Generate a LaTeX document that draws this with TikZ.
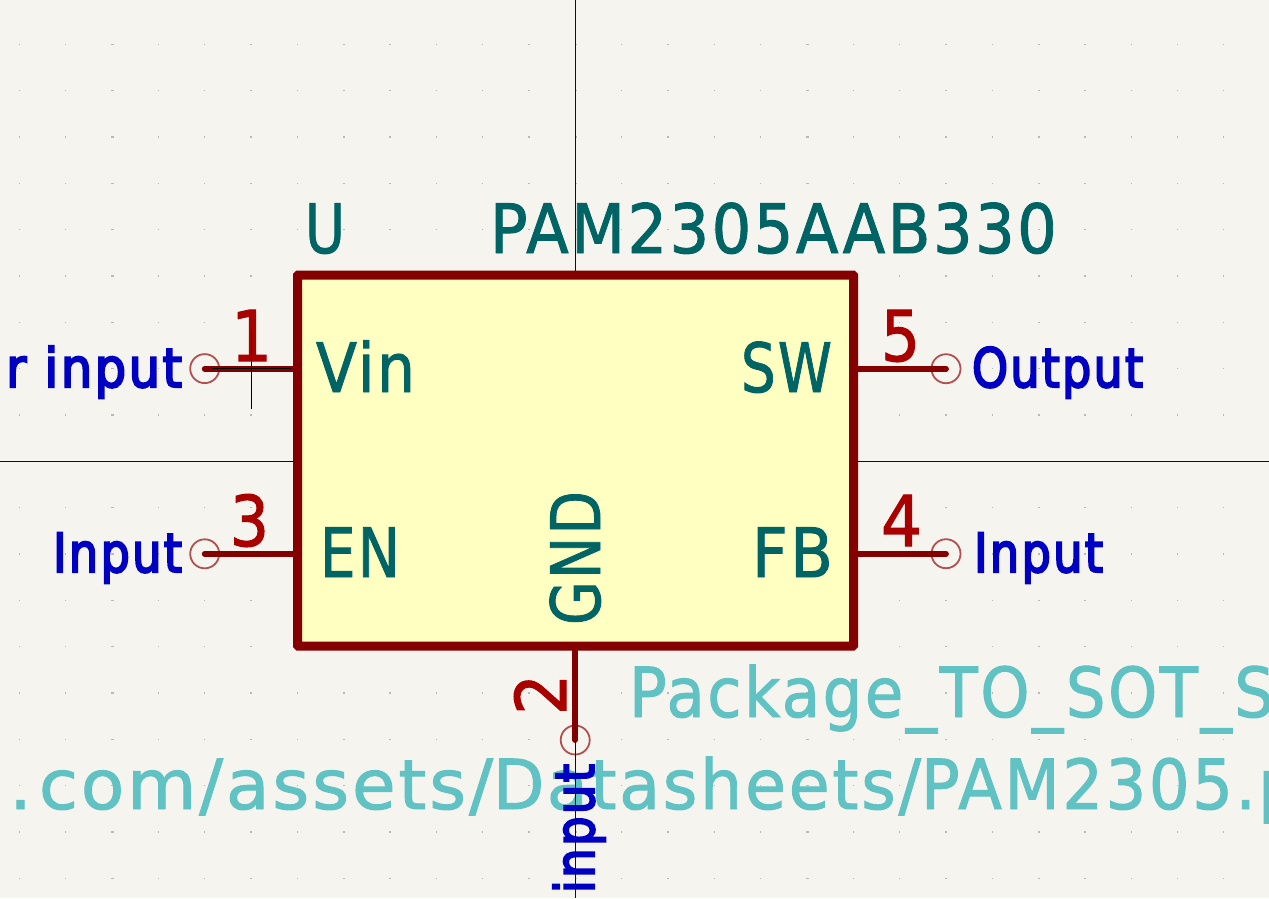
\documentclass[tikz,border=0pt]{standalone}
\usepackage{fontspec}
\usepackage{graphicx}
\setmainfont{DejaVu Sans}
\newfontfamily\thinfont[LetterSpace=4,FakeBold=1.4]{DejaVu Sans}
\newfontfamily\midfont[LetterSpace=4,FakeBold=1.6]{DejaVu Sans}
\newfontfamily\bluefont[LetterSpace=5,FakeBold=4]{DejaVu Sans}
\definecolor{bgc}{HTML}{F5F4EF}
\definecolor{boxc}{HTML}{840000}
\definecolor{fillc}{HTML}{FFFFC2}
\definecolor{tealc}{HTML}{006464}
\definecolor{numc}{HTML}{A90000}
\definecolor{bluec}{HTML}{0000C2}
\definecolor{fieldc}{HTML}{60C2C2}
\definecolor{navyc}{HTML}{000084}
\definecolor{ringc}{HTML}{B05050}
\definecolor{dotc}{HTML}{B8B8B4}
\newcommand{\fitw}[2]{\resizebox{#1pt}{\height}{#2}}
\tikzset{
  x=1pt,y=-1pt,
  txt/.style={inner sep=0pt,outer sep=0pt,anchor=base west},
  teal/.style={txt,text=tealc,font=\thinfont\fontsize{68}{70}\selectfont},
  field/.style={txt,text=fieldc,font=\thinfont\fontsize{69}{70}\selectfont},
  num/.style={txt,text=numc,font=\midfont\fontsize{70}{72}\selectfont},
  sig/.style={txt,text=bluec,font=\bluefont\fontsize{54}{56}\selectfont},
  pinline/.style={draw=boxc,line width=5.8pt,line cap=round},
  ring/.style={circle,draw=ringc,line width=1.8pt,minimum size=29pt,inner sep=0pt,outer sep=0pt},
  cross/.style={draw=navyc,line width=1pt},
  mark line/.style={draw=black,line width=1pt},
}
\begin{document}
\begin{tikzpicture}
\useasboundingbox (0,0) rectangle (1269,898);
\fill[bgc] (0,0) rectangle (1269,898);
% grid
\foreach \j in {0,...,18}{
  \foreach \i in {0,...,27}{
    \pgfmathsetmacro{\gx}{19.3+46.33*\i}
    \pgfmathsetmacro{\gy}{44.3+46.33*\j}
    \pgfmathtruncatemacro{\m}{mod(\i+3,5)}
    \ifnum\m=0
      \fill[dotc] (\gx-0.6,\gy-0.6) rectangle (\gx+1.7,\gy+0.6);
    \else
      \fill[dotc] (\gx-0.6,\gy-0.6) rectangle (\gx+0.6,\gy+0.6);
    \fi
  }
}
% coordinates for free ends
\coordinate (top) at (575.3,0);
\coordinate (bot) at (575.3,898);
\coordinate (lft) at (0,461.6);
\coordinate (rgt) at (1269,461.6);
% body
\node[draw=boxc,fill=fillc,line width=9pt,rounded corners=0.8pt,minimum width=556pt,minimum height=371pt,inner sep=0pt,outer sep=0pt,anchor=north west] (body) at (297.5,275) {};
\coordinate (bodyT) at (575.3,271);
\coordinate (bodyB) at (575.3,650);
\coordinate (bodyL) at (293.5,461.6);
\coordinate (bodyR) at (858,461.6);
% ring nodes
\node[ring] (p1) at (204.7,368.6) {};
\node[ring] (p3) at (204.7,553.8) {};
\node[ring] (p5) at (946,368.7) {};
\node[ring] (p4) at (946,553.7) {};
\node[ring] (p2) at (575.2,740) {};
% pins
\coordinate (b1) at (293,368.6);
\coordinate (b3) at (293,553.8);
\coordinate (b5) at (857,368.7);
\coordinate (b4) at (857,553.7);
\coordinate (b2) at (575.2,650);
\draw[pinline] (p1.center) -- (b1);
\draw[pinline] (p3.center) -- (b3);
\draw[pinline] (p5.center) -- (b5);
\draw[pinline] (p4.center) -- (b4);
\draw[pinline] (p2.center) -- (b2);
% field texts
\node[teal] (refU) at (305,253) {\fitw{40}{U}};
\node[teal] (val) at (490,253) {\fitw{567}{PAM2305AAB330}};
\node[field] (fp) at (629,717) {\fitw{645}{Package\_TO\_SOT\_S}};
\node[field] (ds) at (-35,809) {\fitw{528}{s\kern7pt.\kern7pt com/assets/}\fitw{428}{Datasheets/}\fitw{378}{PAM2305.p}};
% pin names
\node[teal] (nVin) at (316,392) {\fitw{99}{Vin}};
\node[teal] (nSW) at (741,392) {\fitw{91}{SW}};
\node[teal] (nEN) at (320,577) {\fitw{80}{EN}};
\node[teal] (nFB) at (752,577) {\fitw{81}{FB}};
\node[teal,rotate=90] (nGND) at (600,625) {\fitw{134}{GND}};
% pin numbers
\node[num] (n1) at (231,361) {\fitw{41}{1}};
\node[num] (n3) at (230,546) {\fitw{39}{3}};
\node[num] (n5) at (881,361) {\fitw{39}{5}};
\node[num] (n4) at (881,546) {\fitw{41}{4}};
\node[num,rotate=90] (n2) at (566,715) {\fitw{41}{2}};
% pin types
\node[sig] (t1) at (6,387) {\fitw{176}{r input}};
\node[sig] (t3) at (53,572) {\fitw{129}{Input}};
\node[sig] (t5) at (972,387) {\fitw{171}{Output}};
\node[sig] (t4) at (974,572) {\fitw{129}{Input}};
\node[sig,rotate=90] (t2) at (594,893) {\fitw{129}{input}};
% crosshairs
\draw[cross] (top) -- (bodyT);
\draw[cross] (bodyB) -- (bot);
\draw[cross] (lft) -- (bodyL);
\draw[cross] (bodyR) -- (rgt);
\coordinate (m1) at (211,368.4);
\coordinate (m2) at (291,368.4);
\coordinate (m3) at (251.3,329);
\coordinate (m4) at (251.3,408.7);
\draw[mark line] (m1) -- (m2);
\draw[mark line] (m3) -- (m4);
\end{tikzpicture}
\end{document}
